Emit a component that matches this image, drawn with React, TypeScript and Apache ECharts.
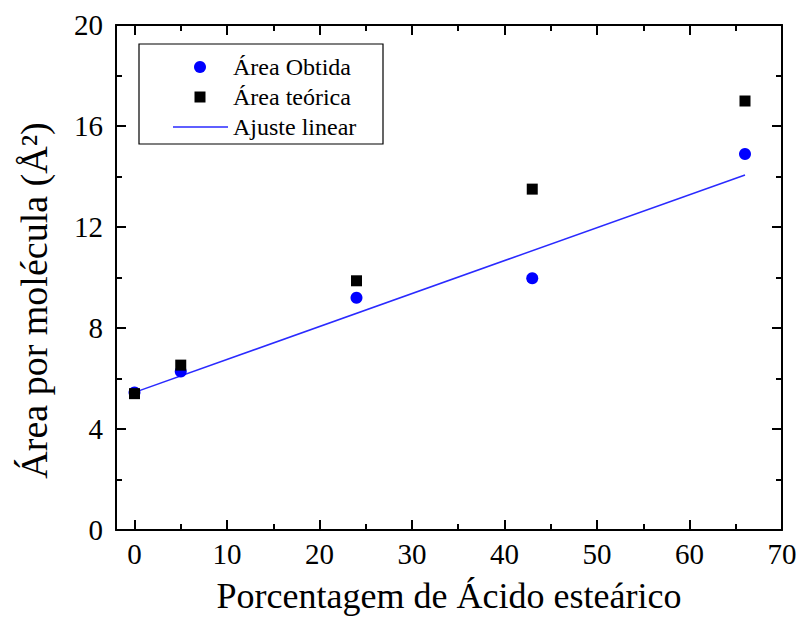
import React, { useEffect, useRef } from "react";
import * as echarts from "echarts";

// Stearic acid percentage in each mixed film
const percentages = [0, 5, 24, 43, 66];
// Measured area per molecule (Å²)
const areaObtida = [5.45, 6.28, 9.2, 9.97, 14.89];
// Theoretical area per molecule (Å²)
const areaTeorica = [5.4, 6.53, 9.87, 13.5, 16.99];
// Linear fit endpoints
const fitX = [0, 66];
const fitY = [5.45, 14.06];

const xMajorTicks = [0, 10, 20, 30, 40, 50, 60, 70];
const xMinorTicks = [5, 15, 25, 35, 45, 55, 65];

const legendNames = ["Área Obtida", "Área teórica", "Ajuste linear"];

const FONT = "Liberation Serif";
const INK = "#000000";
const BLUE = "#0000ff";
const LINE_BLUE = "#2a2aff";

const GRID = { left: 116, right: 17, top: 25, bottom: 102 };

function xAxisDef(gridIndex: number, position: "top" | "bottom", ticks: number[], len: number, withLabels: boolean, showLine: boolean) {
  return {
    type: "value",
    gridIndex,
    position,
    min: -2,
    max: 70,
    axisLine: { show: showLine, onZero: false, lineStyle: { color: INK, width: 2 } },
    axisTick: {
      show: true,
      inside: true,
      length: len,
      customValues: ticks,
      lineStyle: { color: INK, width: 2 },
    },
    axisLabel: withLabels
      ? {
          show: true,
          customValues: xMajorTicks,
          margin: 9,
          color: INK,
          fontFamily: FONT,
          fontSize: 29,
        }
      : { show: false },
    splitLine: { show: false },
    minorTick: { show: false },
  };
}

function yAxisDef(gridIndex: number, position: "left" | "right", withLabels: boolean, visible: boolean) {
  return {
    type: "value",
    gridIndex,
    position,
    show: visible,
    min: 0,
    max: 20,
    interval: 4,
    axisLine: { show: true, onZero: false, lineStyle: { color: INK, width: 2 } },
    axisTick: { show: true, inside: true, length: 10, lineStyle: { color: INK, width: 2 } },
    minorTick: { show: true, splitNumber: 2, length: 6, lineStyle: { color: INK, width: 2 } },
    axisLabel: withLabels
      ? { show: true, margin: 13, color: INK, fontFamily: FONT, fontSize: 29 }
      : { show: false },
    splitLine: { show: false },
    minorSplitLine: { show: false },
  };
}

export default function App() {
  const ref = useRef<HTMLDivElement>(null);

  useEffect(() => {
    document.body.style.margin = "0";
    if (!ref.current) return;
    const chart = echarts.init(ref.current, null, { renderer: "svg" });

    const obtidaData = percentages.map((p, i) => [p, areaObtida[i]]);
    const teoricaData = percentages.map((p, i) => [p, areaTeorica[i]]);
    const fitData = fitX.map((x, i) => [x, fitY[i]]);

    // Legend box drawn as graphics
    const lx = 139;
    const ly = 44;
    const rowY = [67, 97, 127];
    const legend = {
      type: "group",
      children: [
        {
          type: "rect",
          shape: { x: lx, y: ly, width: 244, height: 100 },
          style: { fill: "#fff", stroke: INK, lineWidth: 1.2 },
        },
        { type: "circle", shape: { cx: 200, cy: rowY[0], r: 6 }, style: { fill: BLUE } },
        { type: "rect", shape: { x: 194.5, y: rowY[1] - 5.5, width: 11, height: 11 }, style: { fill: INK } },
        {
          type: "line",
          shape: { x1: 173, y1: rowY[2], x2: 228, y2: rowY[2] },
          style: { stroke: LINE_BLUE, lineWidth: 1.5 },
        },
        ...legendNames.map((name, i) => ({
          type: "text",
          x: 233,
          y: rowY[i],
          style: {
            text: name,
            fill: INK,
            font: `24px '${FONT}'`,
            textVerticalAlign: "middle",
            textAlign: "left",
          },
        })),
      ],
    };

    chart.setOption({
      animation: false,
      backgroundColor: "#ffffff",
      grid: [
        { ...GRID, containLabel: false, outerBoundsMode: "none" },
        { ...GRID, containLabel: false, outerBoundsMode: "none" },
      ],
      xAxis: [
        {
          ...xAxisDef(0, "bottom", xMajorTicks, 10, true, true),
          name: "Porcentagem de Ácido esteárico",
          nameLocation: "middle",
          nameGap: 48,
          nameTextStyle: { fontFamily: FONT, fontSize: 36, color: INK },
        },
        xAxisDef(0, "top", xMajorTicks, 10, false, true),
        xAxisDef(1, "bottom", xMinorTicks, 6, false, false),
        xAxisDef(1, "top", xMinorTicks, 6, false, false),
      ],
      yAxis: [
        {
          ...yAxisDef(0, "left", true, true),
          name: "Área por molécula (Å²)",
          nameLocation: "middle",
          nameGap: 63,
          nameRotate: 90,
          nameTextStyle: { fontFamily: FONT, fontSize: 38, color: INK, padding: [0, 46, 0, 0] },
        },
        yAxisDef(0, "right", false, true),
        yAxisDef(1, "left", false, false),
        yAxisDef(1, "right", false, false),
      ],
      series: [
        {
          name: legendNames[2],
          type: "line",
          xAxisIndex: 0,
          yAxisIndex: 0,
          data: fitData,
          showSymbol: false,
          symbol: "none",
          lineStyle: { color: LINE_BLUE, width: 1.5 },
          z: 2,
        },
        {
          name: legendNames[0],
          type: "scatter",
          xAxisIndex: 0,
          yAxisIndex: 0,
          data: obtidaData,
          symbol: "circle",
          symbolSize: 12,
          itemStyle: { color: BLUE, opacity: 1 },
          z: 3,
        },
        {
          name: legendNames[1],
          type: "scatter",
          xAxisIndex: 0,
          yAxisIndex: 0,
          data: teoricaData,
          symbol: "rect",
          symbolSize: 11,
          itemStyle: { color: INK, opacity: 1 },
          z: 4,
        },
      ],
      graphic: [legend],
    });

    return () => chart.dispose();
  }, []);

  return <div ref={ref} style={{ width: 799, height: 632 }} />;
}
